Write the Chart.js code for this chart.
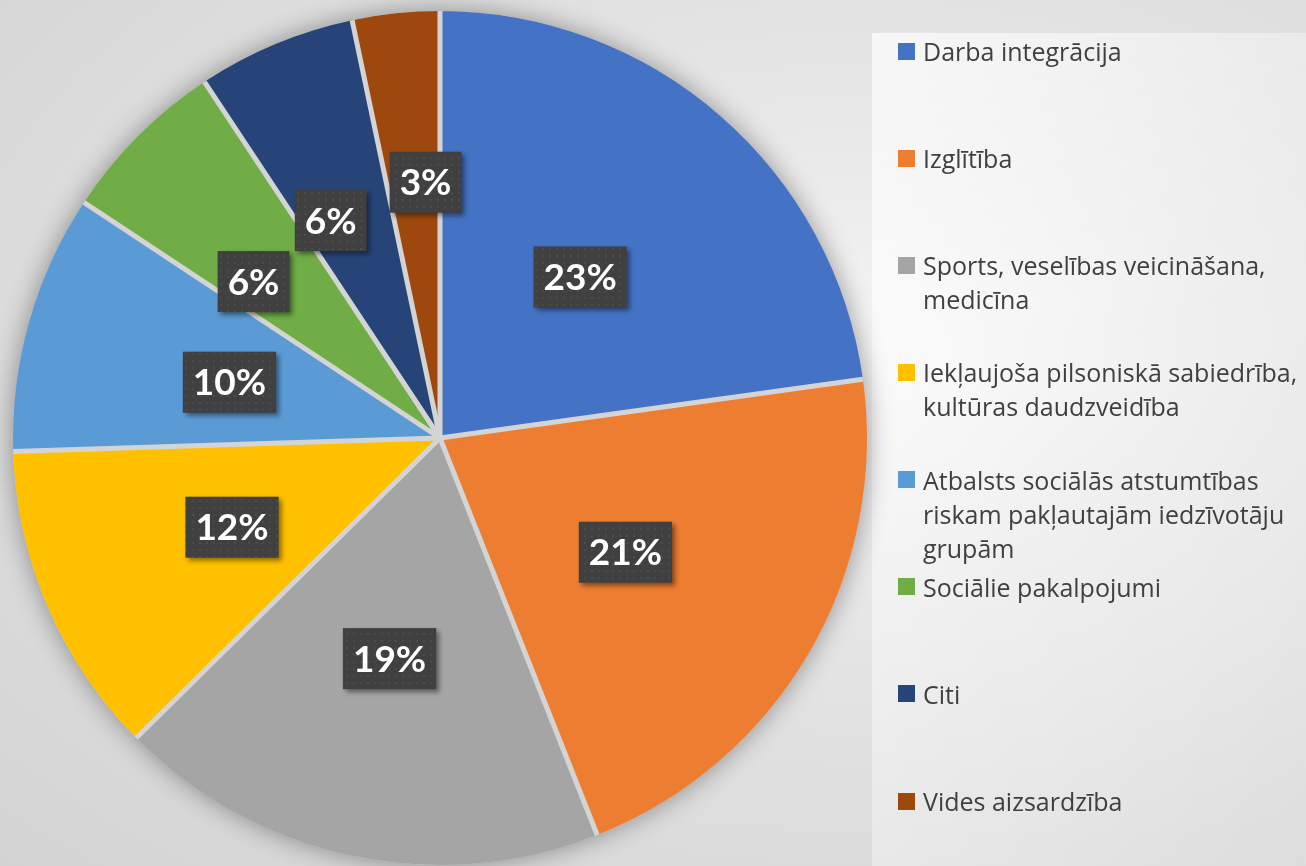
<!DOCTYPE html>
<html>
<head>
<meta charset="utf-8">
<script src="https://cdn.jsdelivr.net/npm/chart.js@4.4.0/dist/chart.umd.min.js"></script>
<style>
html, body { margin: 0; padding: 0; }
body {
    width: 1306px; height: 866px; overflow: hidden; position: relative;
    background: radial-gradient(ellipse farthest-corner at 850px 350px, #f5f5f5 0%, #e8e8e8 30%, #dadada 75%, #d3d3d3 100%);
    font-family: "Open Sans", Lato, sans-serif;
}
#grafico { position: absolute; left: 0; top: 0; }
#fundoLegenda { position: absolute; left: 872px; top: 33px; right: 0; bottom: 0;
    background: linear-gradient(to bottom right, rgba(255,255,255,0.7), rgba(255,255,255,0.35) 50%, rgba(255,255,255,0.1)); }
.item { position: absolute; left: 923px; font-size: 25px; line-height: 34px; color: #404040; white-space: nowrap; }
.quadrado { position: absolute; left: 898px; width: 17px; height: 17px; }
</style>
</head>
<body>
<div id="fundoLegenda"></div>
<canvas id="grafico" width="1306" height="866"></canvas>
<div id="legenda"></div>
<script>
// Dados
var categorias = [
    ['Darba integrācija'],
    ['Izglītība'],
    ['Sports, veselības veicināšana,', 'medicīna'],
    ['Iekļaujoša pilsoniskā sabiedrība,', 'kultūras daudzveidība'],
    ['Atbalsts sociālās atstumtības', 'riskam pakļautajām iedzīvotāju', 'grupām'],
    ['Sociālie pakalpojumi'],
    ['Citi'],
    ['Vides aizsardzība']
];
var valores = [22.8, 21.2, 18.6, 11.9, 9.8, 6.4, 6.0, 3.3];
var cores = ['#4472C4', '#ED7D31', '#A5A5A5', '#FFC000', '#5B9BD5', '#70AD47', '#264478', '#9E480E'];

// posicao das etiquetas: raio relativo e desvio de angulo (graus)
var raioEtiqueta = [0.5, 0.51, 0.53, 0.53, 0.51, 0.57, 0.57, 0.6];
var desvioEtiqueta = [0, 1.4, 1, 0, -1, -5, -4, 2.7];

// Legenda
var legenda = document.getElementById('legenda');
categorias.forEach((linhas, idx) => {
    var y = 51 + idx * 107.15;
    var q = document.createElement('div');
    q.className = 'quadrado';
    q.style.top = (y - 8.5) + 'px';
    q.style.background = cores[idx];
    legenda.appendChild(q);
    var t = document.createElement('div');
    t.className = 'item';
    t.style.top = (y - 17) + 'px';
    t.innerHTML = linhas.join('<br>');
    legenda.appendChild(t);
});

// padrao pontilhado das caixas
var padCanvas = document.createElement('canvas');
padCanvas.width = 7; padCanvas.height = 7;
var pc = padCanvas.getContext('2d');
pc.fillStyle = '#404040';
pc.fillRect(0, 0, 7, 7);
pc.fillStyle = '#4b4b4b';
pc.fillRect(3, 3, 2, 2);

// sombra por baixo da tarte
var sombra = {
    id: 'sombra',
    beforeDatasetsDraw: function(chart) {
        var arco = chart.getDatasetMeta(0).data[0];
        if (!arco) return;
        var ctx = chart.ctx;
        ctx.save();
        ctx.shadowColor = 'rgba(0,0,0,0.38)';
        ctx.shadowBlur = 26;
        ctx.fillStyle = '#d4d4d4';
        ctx.beginPath();
        ctx.arc(arco.x, arco.y, arco.outerRadius, 0, Math.PI * 2);
        ctx.fill();
        ctx.restore();
    }
};

// separadores e etiquetas
var etiquetas = {
    id: 'etiquetas',
    afterDatasetsDraw: function(chart) {
        var ctx = chart.ctx;
        var meta = chart.getDatasetMeta(0);
        var total = valores.reduce((a, b) => a + b, 0);

        ctx.save();
        ctx.strokeStyle = '#d4d4d4';
        ctx.lineWidth = 5;
        meta.data.forEach(function(arco) {
            ctx.beginPath();
            ctx.moveTo(arco.x, arco.y);
            ctx.lineTo(arco.x + Math.cos(arco.startAngle) * arco.outerRadius, arco.y + Math.sin(arco.startAngle) * arco.outerRadius);
            ctx.stroke();
        });
        ctx.restore();

        var padrao = ctx.createPattern(padCanvas, 'repeat');
        ctx.save();
        ctx.font = 'bold 37px Lato, "Open Sans", sans-serif';
        meta.data.forEach(function(arco, idx) {
            var meio = (arco.startAngle + arco.endAngle) / 2 + desvioEtiqueta[idx] * Math.PI / 180;
            var r = arco.outerRadius * raioEtiqueta[idx];
            var cx = arco.x + Math.cos(meio) * r;
            var cy = arco.y + Math.sin(meio) * r;
            var texto = Math.round(valores[idx] / total * 100) + '%';
            var w = ctx.measureText(texto).width + 20;
            var h = 61;
            ctx.save();
            ctx.shadowColor = 'rgba(0,0,0,0.45)';
            ctx.shadowBlur = 5;
            ctx.shadowOffsetX = 3;
            ctx.shadowOffsetY = 3;
            ctx.fillStyle = padrao;
            ctx.fillRect(cx - w / 2, cy - h / 2, w, h);
            ctx.restore();
            ctx.fillStyle = '#ffffff';
            ctx.textAlign = 'center';
            ctx.textBaseline = 'alphabetic';
            ctx.fillText(texto, cx, cy + 13);
        });
        ctx.restore();
    }
};

var grafico = new Chart(document.getElementById('grafico'), {
    type: 'pie',
    data: {
        labels: categorias,
        datasets: [{
            data: valores,
            backgroundColor: cores,
            borderWidth: 0
        }]
    },
    options: {
        responsive: false,
        animation: false,
        devicePixelRatio: 1,
        radius: 427,
        layout: { padding: { left: 0, top: 10, right: 426, bottom: 0 } },
        plugins: {
            legend: { display: false },
            tooltip: { enabled: false }
        }
    },
    plugins: [sombra, etiquetas]
});
</script>
</body>
</html>
